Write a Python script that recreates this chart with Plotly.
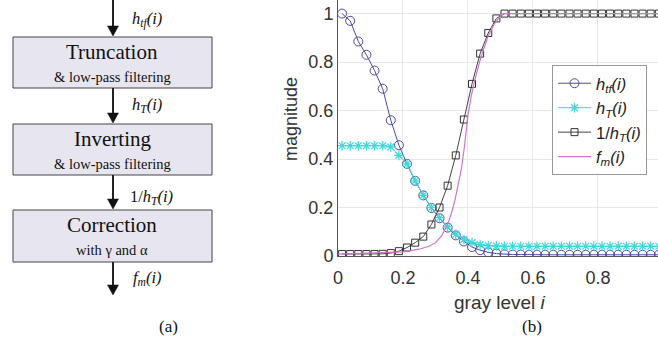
import plotly.graph_objects as go

# ---------------- data ----------------
gray_level = [0.0125, 0.0375, 0.0625, 0.0875, 0.1125, 0.1375, 0.1625, 0.1875,
              0.2125, 0.2375, 0.2625, 0.2875, 0.3125, 0.3375, 0.3625, 0.3875,
              0.4125, 0.4375, 0.4625, 0.4875, 0.5125, 0.5375, 0.5625, 0.5875,
              0.6125, 0.6375, 0.6625, 0.6875, 0.7125, 0.7375, 0.7625, 0.7875,
              0.8125, 0.8375, 0.8625, 0.8875, 0.9125, 0.9375, 0.9625, 0.9875]

h_tf = [1.0, 0.97, 0.885, 0.83, 0.765, 0.69, 0.56, 0.457,
        0.38, 0.31, 0.25, 0.198, 0.156, 0.117, 0.085, 0.06,
        0.037, 0.024, 0.015, 0.01, 0.007, 0.006, 0.006, 0.005,
        0.005, 0.005, 0.005, 0.005, 0.005, 0.005, 0.005, 0.005,
        0.005, 0.005, 0.005, 0.005, 0.005, 0.005, 0.005, 0.005]

h_T = [0.455, 0.455, 0.455, 0.455, 0.455, 0.455, 0.45, 0.415,
       0.38, 0.31, 0.25, 0.2, 0.158, 0.12, 0.09, 0.068,
       0.055, 0.047, 0.043, 0.041, 0.04, 0.04, 0.04, 0.04,
       0.04, 0.04, 0.04, 0.04, 0.04, 0.04, 0.04, 0.04,
       0.04, 0.04, 0.04, 0.04, 0.04, 0.04, 0.04, 0.04]

inv_h_T = [0.008, 0.008, 0.008, 0.008, 0.008, 0.009, 0.012, 0.02,
           0.035, 0.055, 0.08, 0.13, 0.2, 0.29, 0.415, 0.563,
           0.71, 0.835, 0.92, 0.98, 1.0, 1.0, 1.0, 1.0,
           1.0, 1.0, 1.0, 1.0, 1.0, 1.0, 1.0, 1.0,
           1.0, 1.0, 1.0, 1.0, 1.0, 1.0, 1.0, 1.0]

fm_x = [0.0, 0.1, 0.2, 0.25, 0.28, 0.30, 0.32, 0.34, 0.35, 0.36, 0.37, 0.38,
        0.39, 0.40, 0.41, 0.42, 0.44, 0.46, 0.48, 0.50, 0.51, 1.0]
fm_y = [0.008, 0.011, 0.017, 0.028, 0.04, 0.055, 0.085, 0.14, 0.18, 0.23, 0.29, 0.36,
        0.46, 0.58, 0.66, 0.72, 0.82, 0.90, 0.955, 0.99, 1.0, 1.0]

x_ticks = [0, 0.2, 0.4, 0.6, 0.8]
y_ticks = [0, 0.2, 0.4, 0.6, 0.8, 1]

series_names = ["<i>h<sub>tf</sub>(i)</i>", "<i>h<sub>T</sub>(i)</i>",
                "1/<i>h<sub>T</sub>(i)</i>", "<i>f<sub>m</sub>(i)</i>"]

# flowchart texts
box_titles = ["Truncation", "Inverting", "Correction"]
box_subtitles = ["&amp; low-pass filtering", "&amp; low-pass filtering", "with γ and α"]
arrow_labels = ["<i>h<sub>tf</sub>(i)</i>", "<i>h<sub>T</sub>(i)</i>",
                "1/<i>h<sub>T</sub>(i)</i>", "<i>f<sub>m</sub>(i)</i>"]

# ---------------- figure ----------------
W, H = 658, 343
def px(x):
    return x / W
def py(y):
    return 1 - y / H

fig = go.Figure()

fig.add_trace(go.Scatter(x=gray_level, y=h_tf, mode="lines+markers", name=series_names[0],
                         line=dict(color="#4b4ba3", width=1),
                         marker=dict(symbol="circle-open", size=9, color="#4b4ba3",
                                     line=dict(width=1, color="#4b4ba3"))))
fig.add_trace(go.Scatter(x=gray_level, y=h_T, mode="lines+markers", name=series_names[1],
                         line=dict(color="#3dd8d8", width=1),
                         marker=dict(symbol="asterisk-open", size=8, color="#3dd8d8",
                                     line=dict(width=1.2, color="#3dd8d8"))))
fig.add_trace(go.Scatter(x=gray_level, y=inv_h_T, mode="lines+markers", name=series_names[2],
                         line=dict(color="#444444", width=1),
                         marker=dict(symbol="square-open", size=7, color="#333333",
                                     line=dict(width=1, color="#333333"))))
fig.add_trace(go.Scatter(x=fm_x, y=fm_y, mode="lines", name=series_names[3],
                         line=dict(color="#cc77cc", width=1.2)))

axis_font = dict(family="Liberation Sans, Arial, sans-serif", size=18, color="#333333")

fig.update_layout(
    width=W, height=H,
    margin=dict(l=0, r=0, t=0, b=0),
    paper_bgcolor="white", plot_bgcolor="white",
    showlegend=True,
    legend=dict(x=px(552), y=py(65), xanchor="left", yanchor="top",
                bgcolor="white", bordercolor="#999999", borderwidth=1,
                font=dict(family="Liberation Sans, Arial, sans-serif", size=16.5, color="#222222"),
                itemwidth=33, tracegroupgap=4, traceorder="normal"),
    xaxis=dict(domain=[338 / W, 1], range=[0, 0.985], tickvals=x_ticks,
               ticktext=[("%g" % v) for v in x_ticks],
               showgrid=True, gridcolor="#e8e8e8", gridwidth=1,
               showline=True, linecolor="#555555", linewidth=1, mirror=False,
               zeroline=False, ticks="", ticklabelstandoff=5,
               tickfont=axis_font, automargin=False),
    yaxis=dict(domain=[87 / H, 1], range=[0, 1.056], tickvals=y_ticks,
               ticktext=[("%g" % v) for v in y_ticks],
               showgrid=True, gridcolor="#e8e8e8", gridwidth=1,
               showline=True, linecolor="#555555", linewidth=1,
               zeroline=False, ticks="", tickfont=axis_font, automargin=False),
)

shapes = []
annotations = []

# axis titles
annotations.append(dict(x=px(291), y=py(119), xref="paper", yref="paper", text="magnitude",
                        textangle=-90, showarrow=False, xanchor="center", yanchor="middle",
                        font=dict(family="Liberation Sans, Arial, sans-serif", size=18, color="#333333")))
annotations.append(dict(x=px(500), y=py(302), xref="paper", yref="paper", text="gray level <i>i</i>",
                        showarrow=False, xanchor="center", yanchor="middle",
                        font=dict(family="Liberation Sans, Arial, sans-serif", size=19, color="#333333")))

serif = "Liberation Serif, Times New Roman, serif"

# boxes: (top, bottom)
boxes = [(37, 88), (124, 175), (210, 262)]
for i, (t, b) in enumerate(boxes):
    shapes.append(dict(type="rect", xref="paper", yref="paper",
                       x0=px(13), x1=px(212), y0=py(b), y1=py(t),
                       fillcolor="#e7e6f0", line=dict(color="#444444", width=1)))
    annotations.append(dict(x=px(112.5), y=py(t + 15), xref="paper", yref="paper",
                            text=box_titles[i], showarrow=False, xanchor="center", yanchor="middle",
                            font=dict(family=serif, size=21, color="#111111")))
    annotations.append(dict(x=px(112.5), y=py(t + 40), xref="paper", yref="paper",
                            text=box_subtitles[i], showarrow=False, xanchor="center", yanchor="middle",
                            font=dict(family=serif, size=14.5, color="#111111")))

# arrows: (start, tip)
arrows = [(0, 36), (88, 123), (175, 209), (262, 295)]
label_y = [20, 105, 197, 278]
label_x = [130, 130, 128, 131]
ax = 113
for i, (s, tip) in enumerate(arrows):
    shapes.append(dict(type="line", xref="paper", yref="paper",
                       x0=px(ax), x1=px(ax), y0=py(s), y1=py(tip - 9),
                       line=dict(color="#222222", width=2)))
    path = "M %f,%f L %f,%f L %f,%f Z" % (px(ax - 5.5), py(tip - 10), px(ax + 5.5), py(tip - 10),
                                          px(ax), py(tip))
    shapes.append(dict(type="path", xref="paper", yref="paper", path=path,
                       fillcolor="#111111", line=dict(color="#111111", width=0.5)))
    annotations.append(dict(x=px(label_x[i]), y=py(label_y[i]), xref="paper", yref="paper",
                            text=arrow_labels[i], showarrow=False, xanchor="left", yanchor="middle",
                            font=dict(family=serif, size=16.5, color="#111111")))

# panel labels
annotations.append(dict(x=px(168), y=py(326), xref="paper", yref="paper", text="(a)",
                        showarrow=False, xanchor="center", yanchor="middle",
                        font=dict(family=serif, size=17, color="#111111")))
annotations.append(dict(x=px(532), y=py(326), xref="paper", yref="paper", text="(b)",
                        showarrow=False, xanchor="center", yanchor="middle",
                        font=dict(family=serif, size=17, color="#111111")))

fig.update_layout(shapes=shapes, annotations=annotations)
fig.write_html("out.html")
